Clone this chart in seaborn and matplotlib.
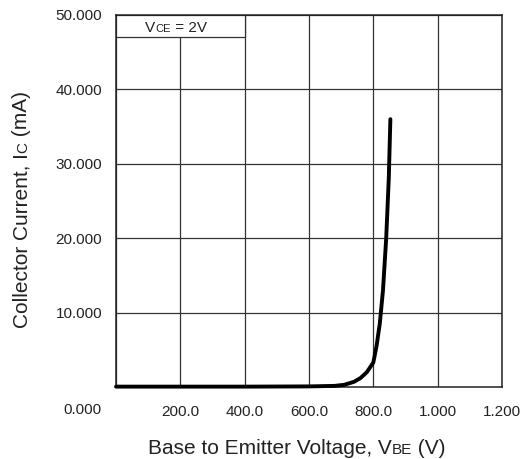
import numpy as np
import pandas as pd
import seaborn as sns
import matplotlib.pyplot as plt
from matplotlib.patches import Rectangle

# Datos (Vbe en mV, Ic en mA)
vbe = [0, 200, 400, 600, 680, 710, 740, 760, 780, 800, 810, 820, 830, 840, 848, 853]
ic = [0.05, 0.05, 0.05, 0.08, 0.15, 0.3, 0.7, 1.2, 2.0, 3.3, 5.5, 8.5, 13.0, 20.0, 28.0, 36.0]

xticks = [0, 200, 400, 600, 800, 1000, 1200]
xlabels = ['', '200.0', '400.0', '600.0', '800.0', '1.000', '1.200']
yticks = [10, 20, 30, 40, 50]
ylabels = ['10.000', '20.000', '30.000', '40.000', '50.000']

sns.set_theme(style='white')
plt.rcParams['font.family'] = ['Liberation Sans', 'DejaVu Sans']

data = pd.DataFrame({'Vbe': vbe, 'Ic': ic})

fig = plt.figure(figsize=(5.25, 4.59), dpi=100)
ax = fig.add_axes([116 / 525, 1 - 387 / 459, 386 / 525, 372 / 459])

sns.lineplot(data=data, x='Vbe', y='Ic', color='black', linewidth=2.8, ax=ax,
             clip_on=False, zorder=5)

ax.set_xlim(0, 1200)
ax.set_ylim(0, 50)
ax.set_xticks(xticks)
ax.set_xticklabels(xlabels)
ax.set_yticks(yticks)
ax.set_yticklabels(ylabels)
ax.tick_params(axis='both', length=0, labelsize=11, colors='#222222')
ax.tick_params(axis='y', pad=10)
ax.tick_params(axis='x', pad=13)
ax.grid(True, color='#333333', linewidth=0.9)
for s in ax.spines.values():
    s.set_color('#222222')
    s.set_linewidth(1.1)
ax.set_xlabel('')
ax.set_ylabel('')

# etiqueta 0.000 compartida
fig.text(102 / 525, 1 - 410 / 459, '0.000', ha='right', va='center',
         fontsize=11, color='#222222')

# recuadro de condicion
ax.add_patch(Rectangle((0, 47.0), 400, 3.0, facecolor='white', edgecolor='#333333',
                       linewidth=0.9, zorder=2))
t1 = fig.text(145 / 525, 1 - 31.5 / 459, 'V', fontsize=11, ha='left', va='baseline',
              color='#222222', zorder=3)
fig.canvas.draw()
r = fig.canvas.get_renderer()
bb = t1.get_window_extent(r)
t2 = fig.text(bb.x1 / fig.bbox.width, 1 - 31.5 / 459, 'CE', fontsize=8,
              ha='left', va='baseline', color='#222222', zorder=3)
bb2 = t2.get_window_extent(r)
fig.text(bb2.x1 / fig.bbox.width, 1 - 31.5 / 459, ' = 2V', fontsize=11,
         ha='left', va='baseline', color='#222222', zorder=3)

# etiqueta eje x
x1 = fig.text(148 / 525, 1 - 454 / 459, 'Base to Emitter Voltage, V', fontsize=15,
              ha='left', va='baseline', color='#222222')
bb = x1.get_window_extent(r)
x2 = fig.text(bb.x1 / fig.bbox.width, 1 - 454 / 459, 'BE', fontsize=11,
              ha='left', va='baseline', color='#222222')
bb2 = x2.get_window_extent(r)
fig.text(bb2.x1 / fig.bbox.width, 1 - 454 / 459, ' (V)', fontsize=15,
         ha='left', va='baseline', color='#222222')

# etiqueta eje y
y1 = fig.text(27 / 525, 1 - 328 / 459, 'Collector Current, I', fontsize=15, rotation=90,
              rotation_mode='anchor', ha='left', va='baseline', color='#222222')
fig.canvas.draw()
bb = y1.get_window_extent(r)
y2 = fig.text(27 / 525, bb.y1 / fig.bbox.height, 'C', fontsize=11, rotation=90,
              rotation_mode='anchor', ha='left', va='baseline', color='#222222')
bb2 = y2.get_window_extent(r)
fig.text(27 / 525, bb2.y1 / fig.bbox.height, ' (mA)', fontsize=15, rotation=90,
         rotation_mode='anchor', ha='left', va='baseline', color='#222222')

fig.savefig('out.png', dpi=100)
